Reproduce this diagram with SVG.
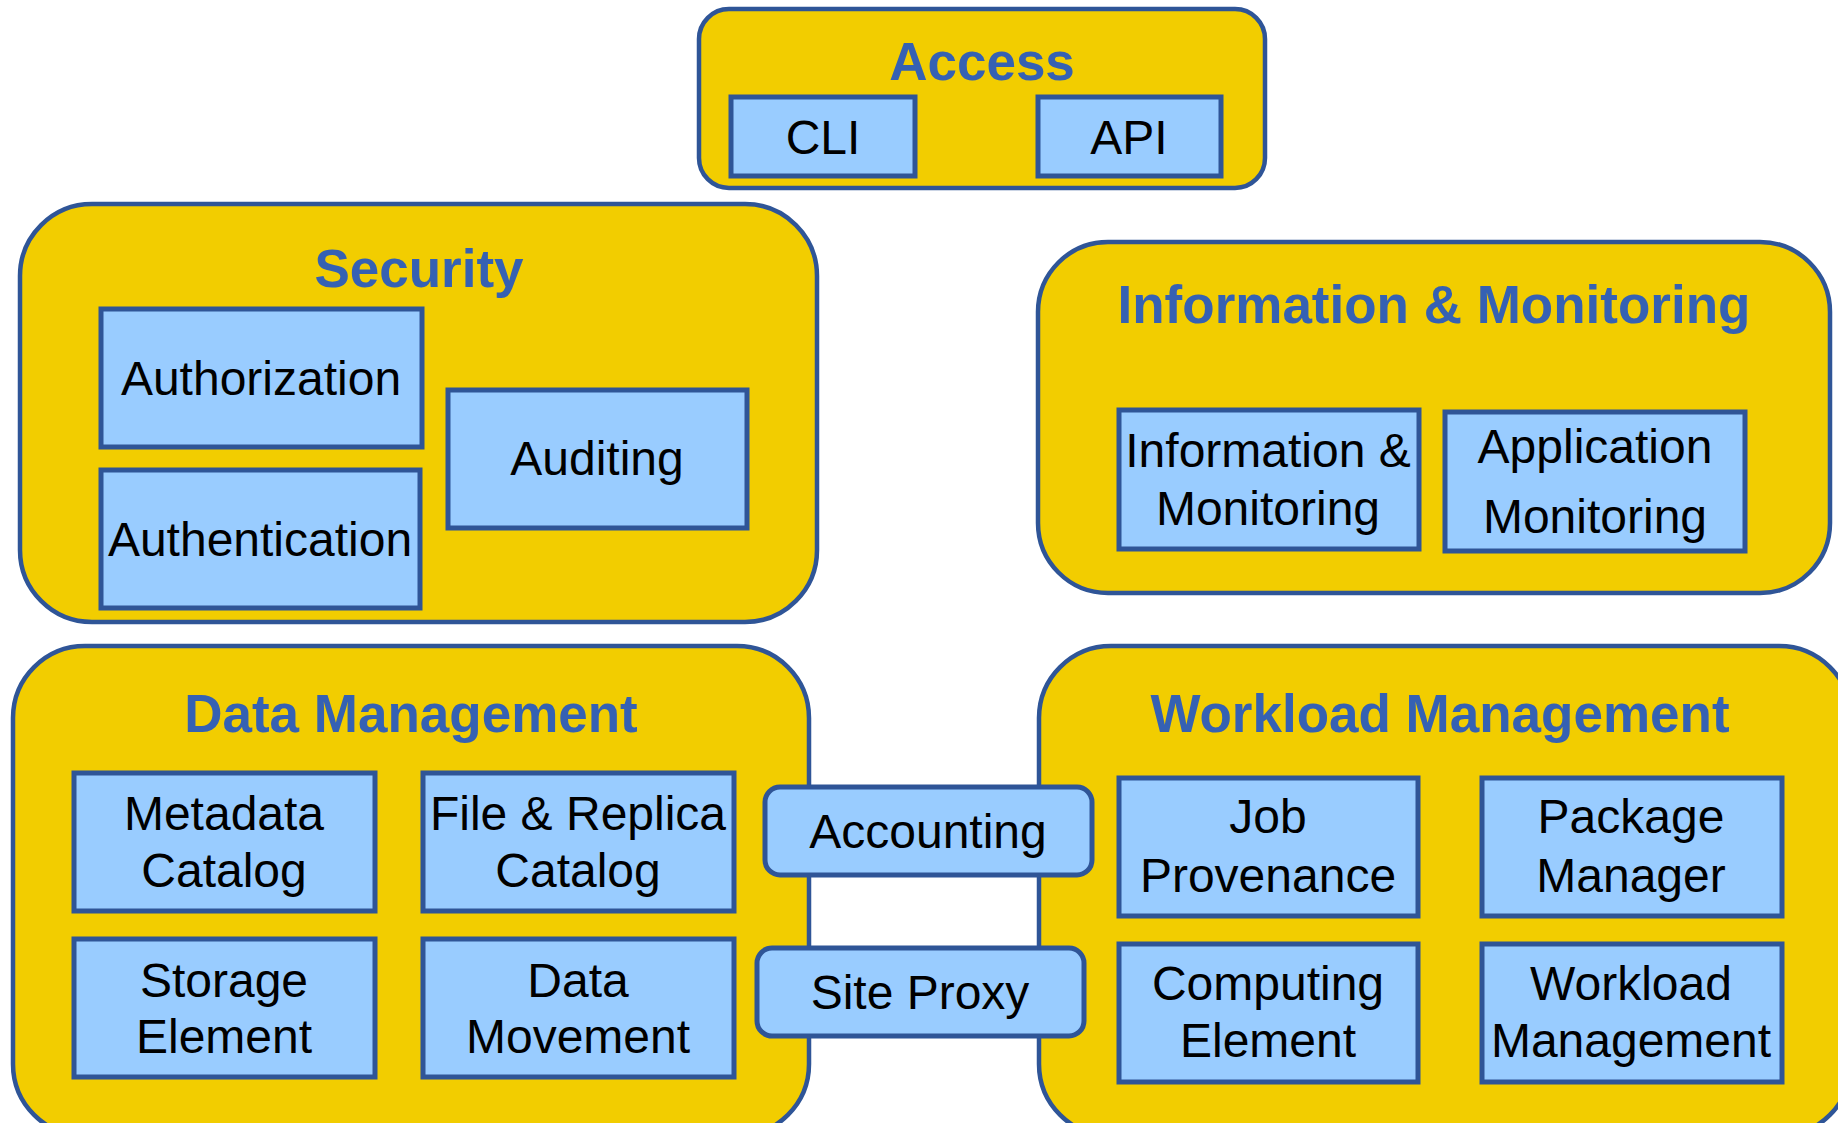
<svg xmlns="http://www.w3.org/2000/svg" width="1838" height="1123" viewBox="0 0 1838 1123">
<style>
.grp{fill:#F2CD00;stroke:#2F5597;stroke-width:4.5}
.box{fill:#99CCFF;stroke:#2F5597;stroke-width:5}
.title{font-family:"Liberation Sans",Arial,sans-serif;font-weight:bold;font-size:53px;fill:#3561B3;text-anchor:middle}
.lbl{font-family:"Liberation Sans",Arial,sans-serif;font-size:48px;fill:#000;text-anchor:middle}
</style>
<rect width="1838" height="1123" fill="#fff"/>
<g id="access">
<rect class="grp" x="699" y="9" width="566" height="179" rx="30"/>
<text class="title" x="982" y="80">Access</text>
</g>
<g id="cli"><rect class="box" x="731" y="97" width="184" height="79"/><text class="lbl" x="823" y="154">CLI</text></g>
<g id="api"><rect class="box" x="1038" y="97" width="183" height="79"/><text class="lbl" x="1129" y="154">API</text></g>

<g id="security">
<rect class="grp" x="20" y="204" width="797" height="418" rx="72"/>
<text class="title" x="419" y="287">Security</text>
</g>
<g id="authorization"><rect class="box" x="101" y="309" width="321" height="138"/><text class="lbl" x="261" y="395">Authorization</text></g>
<g id="authentication"><rect class="box" x="101" y="470" width="319" height="138"/><text class="lbl" x="260" y="556">Authentication</text></g>
<g id="auditing"><rect class="box" x="448" y="390" width="299" height="138"/><text class="lbl" x="597" y="475">Auditing</text></g>

<g id="info">
<rect class="grp" x="1038" y="242" width="792" height="351" rx="70"/>
<text class="title" x="1434" y="323">Information &amp; Monitoring</text>
</g>
<g id="infomon"><rect class="box" x="1119" y="410" width="300" height="139"/><text class="lbl" x="1268" y="467">Information &amp;</text><text class="lbl" x="1268" y="525">Monitoring</text></g>
<g id="appmon"><rect class="box" x="1445" y="412" width="300" height="139"/><text class="lbl" x="1595" y="463">Application</text><text class="lbl" x="1595" y="533">Monitoring</text></g>

<g id="datamgmt">
<rect class="grp" x="13" y="646" width="796" height="490" rx="72"/>
<text class="title" x="411" y="732">Data Management</text>
</g>
<g id="metadata"><rect class="box" x="74" y="773" width="301" height="138"/><text class="lbl" x="224" y="830">Metadata</text><text class="lbl" x="224" y="887">Catalog</text></g>
<g id="filereplica"><rect class="box" x="423" y="773" width="311" height="138"/><text class="lbl" x="578" y="830">File &amp; Replica</text><text class="lbl" x="578" y="887">Catalog</text></g>
<g id="storage"><rect class="box" x="74" y="939" width="301" height="138"/><text class="lbl" x="224" y="997">Storage</text><text class="lbl" x="224" y="1053">Element</text></g>
<g id="datamove"><rect class="box" x="423" y="939" width="311" height="138"/><text class="lbl" x="578" y="997">Data</text><text class="lbl" x="578" y="1053">Movement</text></g>

<g id="workload">
<rect class="grp" x="1039" y="646" width="812" height="490" rx="72"/>
<text class="title" x="1440" y="732">Workload Management</text>
</g>
<g id="jobprov"><rect class="box" x="1119" y="778" width="299" height="138"/><text class="lbl" x="1268" y="833">Job</text><text class="lbl" x="1268" y="892">Provenance</text></g>
<g id="pkgmgr"><rect class="box" x="1482" y="778" width="300" height="138"/><text class="lbl" x="1631" y="833">Package</text><text class="lbl" x="1631" y="892">Manager</text></g>
<g id="computing"><rect class="box" x="1119" y="944" width="299" height="138"/><text class="lbl" x="1268" y="1000">Computing</text><text class="lbl" x="1268" y="1057">Element</text></g>
<g id="wlmgmt"><rect class="box" x="1482" y="944" width="300" height="138"/><text class="lbl" x="1631" y="1000">Workload</text><text class="lbl" x="1631" y="1057">Management</text></g>

<g id="connectors"></g>
<g id="accounting"><rect class="box" x="765" y="787" width="327" height="88" rx="15"/><text class="lbl" x="928" y="848">Accounting</text></g>
<g id="siteproxy"><rect class="box" x="757" y="948" width="327" height="88" rx="15"/><text class="lbl" x="920" y="1009">Site Proxy</text></g>
</svg>
